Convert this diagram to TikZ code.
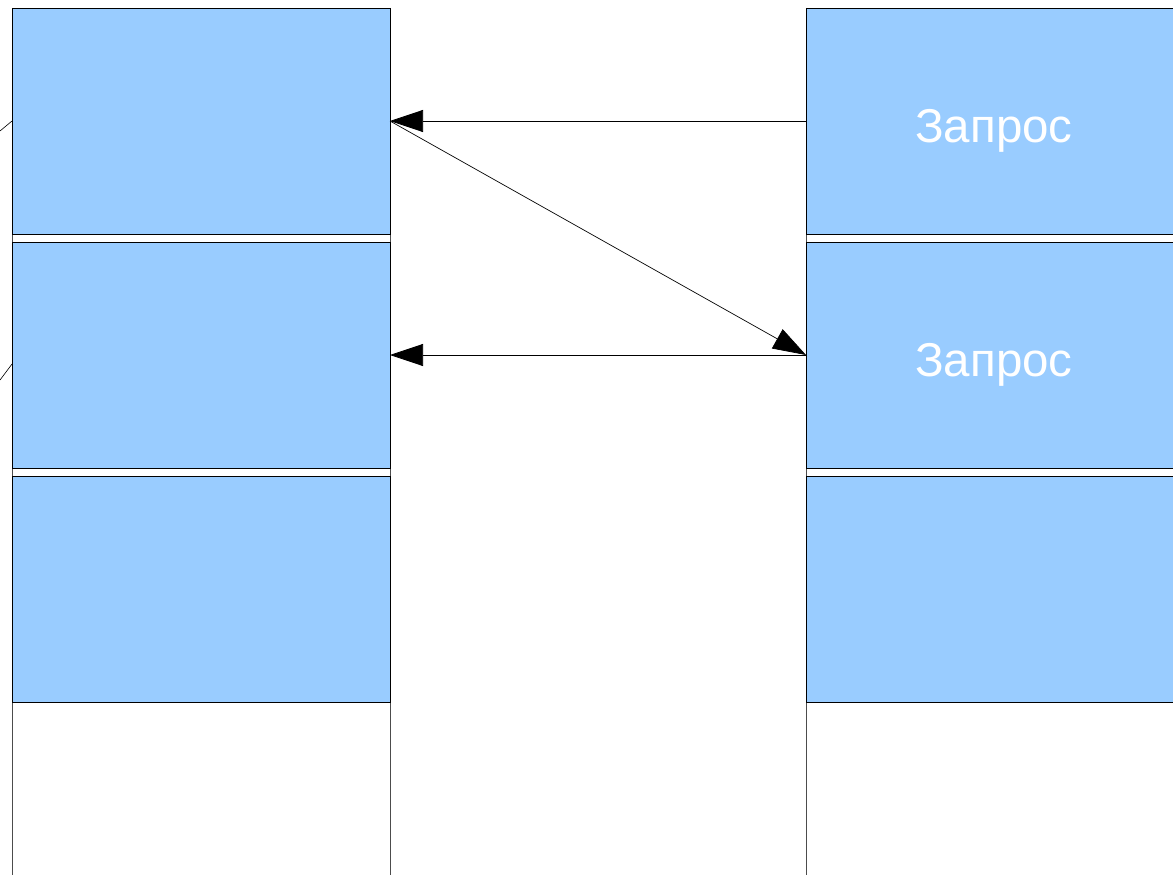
\documentclass[tikz,border=0pt]{standalone}
\usepackage{fontspec}
\setmainfont{Liberation Sans}
\usetikzlibrary{arrows.meta}
\definecolor{boxblue}{HTML}{99CCFF}
\begin{document}
\begin{tikzpicture}[x=1pt,y=-1pt,
  cell/.style={draw=black, fill=boxblue, line width=0.8pt, minimum height=226pt, inner sep=0pt, outer sep=0pt, anchor=north west},
  lcell/.style={cell, minimum width=378pt},
  rcell/.style={cell, minimum width=376pt},
  lbl/.style={text=white, font=\fontsize{47.5}{56}\selectfont},
  arr/.style={line width=0.7pt, -{Triangle[length=33pt,width=22pt]}},
  thin/.style={line width=0.6pt, draw=black!70}]
\useasboundingbox (0,0) rectangle (1173,875);
\begin{scope}
\clip (0,0) rectangle (1173,875);
% column lines
\draw[thin] (12,8) -- (12,875);
\draw[thin] (390,8) -- (390,875);
\draw[thin] (806,8) -- (806,875);
% left boxes
\node[lcell] (L1) at (12,8) {};
\node[lcell] (L2) at (12,242) {};
\node[lcell] (L3) at (12,476) {};
% right boxes
\node[rcell] (R1) at (806,8) {};
\node[rcell] (R2) at (806,242) {};
\node[rcell] (R3) at (806,476) {};
\node[lbl] (T1) at ([yshift=-10pt]R1.center) {Запрос};
\node[lbl] (T2) at ([yshift=-10pt]R2.center) {Запрос};
% left stubs
\coordinate (s1) at (0,131);
\coordinate (e1) at (12,121);
\coordinate (s2) at (0,380);
\coordinate (e2) at (12,364);
\draw[line width=0.6pt] (s1) -- (e1);
\draw[line width=0.6pt] (s2) -- (e2);
% arrows
\draw[arr] (R1.west) -- (L1.east);
\draw[arr] (L1.east) -- (R2.west);
\draw[arr] (R2.west) -- (L2.east);
\end{scope}
\end{tikzpicture}
\end{document}
